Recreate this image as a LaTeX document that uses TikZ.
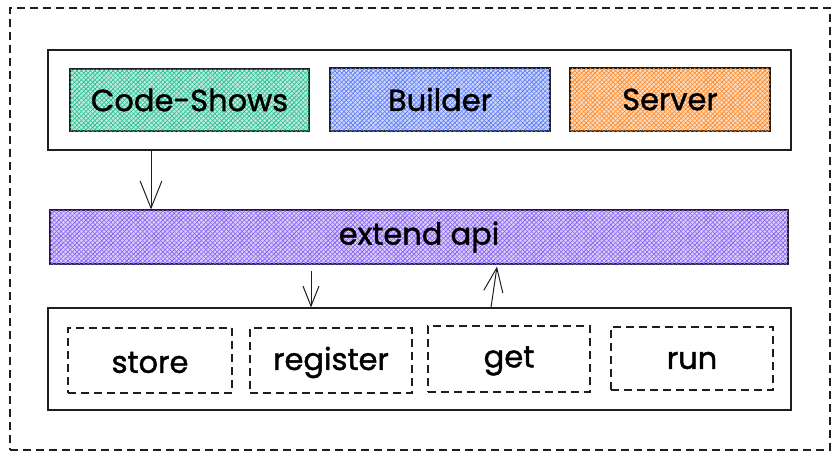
\documentclass[tikz,border=0pt]{standalone}
\usepackage{fontspec}
\setmainfont{Poppins}
\newfontfamily\lblfont{Poppins}[FakeBold=1.3]
\usetikzlibrary{arrows.meta,patterns.meta}
\definecolor{ink}{HTML}{1E1E1E}
\definecolor{cgreen}{HTML}{12B886}
\definecolor{cblue}{HTML}{4C6EF5}
\definecolor{corange}{HTML}{FD7E14}
\definecolor{cviolet}{HTML}{7950F2}
\tikzset{
  box/.style={draw=ink,line width=1.1pt,rectangle,inner sep=0pt},
  hatch/.style={box,preaction={fill=#1!28},
    postaction={pattern={Lines[angle=45,distance=3.2pt,line width=0.6pt]},pattern color=#1},
    postaction={pattern={Lines[angle=-45,distance=3.2pt,line width=0.6pt]},pattern color=#1!85}},
  dbox/.style={draw=ink,line width=1.1pt,dash pattern=on 8pt off 5pt,rectangle,inner sep=0pt},
  lbl/.style={font=\lblfont\fontsize{30.5}{33}\selectfont,text=black},
  arr/.style={draw=ink,line width=1pt,-{Straight Barb[length=#1,width=0.8*#1,line width=1pt]}},
  arr/.default=22pt,
}
\begin{document}
\begin{tikzpicture}[x=1pt,y=-1pt]
\useasboundingbox (0,0) rectangle (840,460);
\node[dbox,line width=1.2pt,minimum width=820pt,minimum height=442pt] (outer) at (420,229) {};
\node[box,minimum width=743pt,minimum height=100pt] (top) at (419.5,100) {};
\node[hatch=cgreen,minimum width=239pt,minimum height=62pt] (codeshows) at (189.5,100) {};
\node[hatch=cblue,minimum width=220pt,minimum height=63pt] (builder) at (440,99.5) {};
\node[hatch=corange,minimum width=200pt,minimum height=63pt] (server) at (670,99.5) {};
\node[lbl] (tcs) at (codeshows) {Code-Shows};
\node[lbl] (tb) at (builder) {Builder};
\node[lbl] (ts) at (server) {Server};
\node[hatch=cviolet,minimum width=738pt,minimum height=54pt] (extend) at (419,237) {};
\node[lbl] (te) at (extend) {extend api};
\node[box,minimum width=743pt,minimum height=102pt] (bottom) at (419.5,359) {};
\node[dbox,minimum width=164pt,minimum height=65pt] (store) at (150,360.5) {};
\node[dbox,minimum width=162pt,minimum height=65pt] (register) at (331,360.5) {};
\node[dbox,minimum width=162pt,minimum height=66pt] (get) at (509,359) {};
\node[dbox,minimum width=162pt,minimum height=63pt] (run) at (692,358.5) {};
\node[lbl] (tst) at ([yshift=-2pt]store.center) {store};
\node[lbl] (trg) at ([yshift=-2pt]register.center) {register};
\node[lbl] (tg) at ([yshift=-2pt]get.center) {get};
\node[lbl] (tr) at ([yshift=-2pt]run.center) {run};
\draw[arr=27pt] ([xshift=-268.5pt]top.south) -- ([xshift=-268pt]extend.north);
\draw[arr=20pt] ([xshift=-108pt,yshift=-6pt]extend.south) -- ([xshift=-108.5pt]bottom.north);
\draw[arr=24pt] ([xshift=71.5pt]bottom.north) -- ([xshift=78pt,yshift=-2pt]extend.south);
\end{tikzpicture}
\end{document}
